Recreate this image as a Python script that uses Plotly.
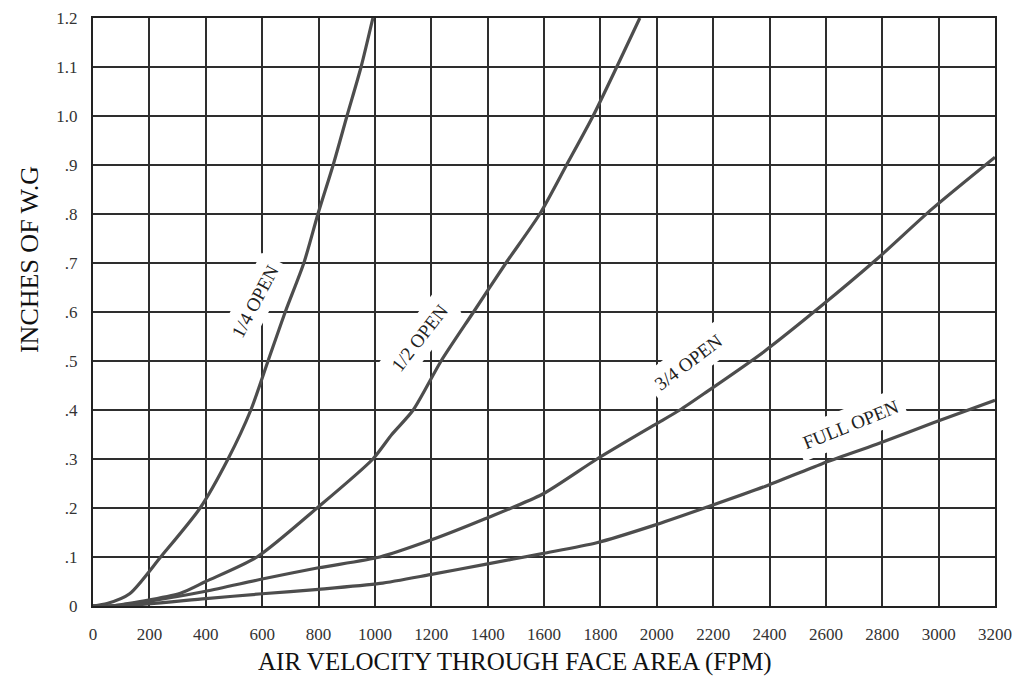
import plotly.graph_objects as go

# Data
quarter_x = [0, 50, 130, 240, 380, 479, 560, 621, 682, 748, 798, 852, 901, 951, 993]
quarter_y = [0, 0.005, 0.025, 0.1, 0.2, 0.3, 0.4, 0.5, 0.6, 0.7, 0.8, 0.9, 1.0, 1.1, 1.2]

half_x = [0, 60, 310, 400, 582, 795, 993, 1060, 1136, 1235, 1350, 1465, 1585, 1680, 1774, 1858, 1940]
half_y = [0, 0, 0.026, 0.05, 0.1, 0.2, 0.3, 0.35, 0.4, 0.5, 0.6, 0.7, 0.8, 0.9, 1.0, 1.1, 1.2]

three_q_x = [0, 60, 200, 400, 600, 800, 1018, 1196, 1391, 1594, 1788, 1987, 2082, 2177, 2378, 2581, 2777, 2978, 3200]
three_q_y = [0, 0, 0.01, 0.03, 0.055, 0.078, 0.1, 0.134, 0.178, 0.228, 0.3, 0.368, 0.4, 0.437, 0.518, 0.611, 0.706, 0.811, 0.916]

full_x = [0, 100, 400, 600, 800, 1018, 1196, 1391, 1594, 1787, 1987, 2179, 2384, 2585, 2780, 2981, 3200]
full_y = [0, 0, 0.015, 0.025, 0.034, 0.046, 0.064, 0.085, 0.107, 0.129, 0.164, 0.202, 0.244, 0.29, 0.33, 0.374, 0.42]

x_ticks = list(range(0, 3201, 200))
x_tick_labels = [str(v) for v in x_ticks]
y_ticks = [round(i * 0.1, 1) for i in range(13)]
y_tick_labels = ["0", ".1", ".2", ".3", ".4", ".5", ".6", ".7", ".8", ".9", "1.0", "1.1", "1.2"]

curve_labels = ["1/4 OPEN", "1/2 OPEN", "3/4 OPEN", "FULL OPEN"]
label_x = [575, 1160, 2111, 2689]
label_y = [0.621, 0.548, 0.497, 0.371]
label_angle = [-62, -52, -37, -22]

FONT = "Liberation Serif, Times New Roman, serif"
LINE_COLOR = "#4d4d4d"
GRID_COLOR = "#2e2e2e"

fig = go.Figure()
for xs, ys in [(quarter_x, quarter_y), (half_x, half_y), (three_q_x, three_q_y), (full_x, full_y)]:
    fig.add_trace(go.Scatter(
        x=xs, y=ys, mode="lines",
        line=dict(color=LINE_COLOR, width=3.2, shape="spline", smoothing=0.7),
        showlegend=False, hoverinfo="skip", cliponaxis=True,
    ))

for txt, lx, ly, ang in zip(curve_labels, label_x, label_y, label_angle):
    fig.add_annotation(
        x=lx, y=ly, text=txt, showarrow=False, textangle=ang,
        font=dict(family=FONT, size=19, color="#222222"),
        bgcolor="white", borderpad=6,
    )

fig.add_annotation(
    xref="paper", yref="paper", x=-0.071, y=0.59, xanchor="center", yanchor="middle",
    text="INCHES OF W.G", showarrow=False, textangle=-90,
    font=dict(family=FONT, size=26, color="#111111"),
)
fig.add_annotation(
    xref="paper", yref="paper", x=0.468, y=-0.095, xanchor="center", yanchor="middle",
    text="AIR VELOCITY THROUGH FACE AREA (FPM)", showarrow=False,
    font=dict(family=FONT, size=25, color="#111111"),
)

fig.update_xaxes(
    range=[0, 3200], tickvals=x_ticks, ticktext=x_tick_labels,
    showgrid=True, gridcolor=GRID_COLOR, gridwidth=2,
    showline=True, linecolor="#222222", linewidth=2, mirror=True,
    zeroline=False, ticks="", ticklabelstandoff=12, automargin=False,
    ticklabeloverflow="allow",
    tickfont=dict(family=FONT, size=17, color="#333333"),
)
fig.update_yaxes(
    range=[0, 1.2], tickvals=y_ticks, ticktext=y_tick_labels,
    showgrid=True, gridcolor=GRID_COLOR, gridwidth=2,
    showline=True, linecolor="#222222", linewidth=2, mirror=True,
    zeroline=False, ticks="", ticklabelstandoff=10, automargin=False,
    ticklabeloverflow="allow",
    tickfont=dict(family=FONT, size=17, color="#333333"),
)

fig.update_layout(
    width=1015, height=679, autosize=False,
    margin=dict(l=85, r=28, t=10, b=81),
    paper_bgcolor="white", plot_bgcolor="white",
)

fig.write_html("out.html")
